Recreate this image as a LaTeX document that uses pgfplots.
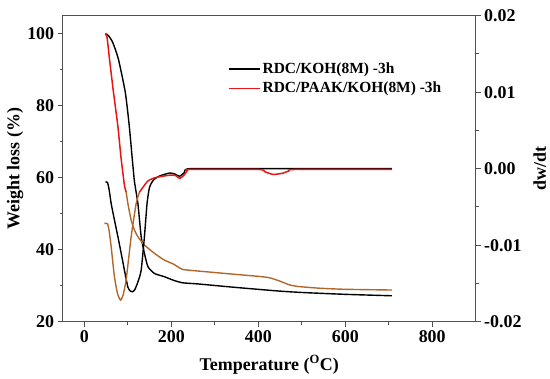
\documentclass[border=0pt]{standalone}
\usepackage{pgfplots}
\pgfplotsset{compat=1.18}
\usepackage{fontspec}
\setmainfont{Liberation Serif}
\definecolor{tgared}{RGB}{235,20,20}
\definecolor{tgabrown}{RGB}{178,102,42}
\definecolor{framegray}{RGB}{80,80,80}
\begin{document}
\begin{tikzpicture}
\useasboundingbox (-62.7bp,-57.3bp) rectangle (487.3bp,321.7bp);
\pgfplotsset{
  common/.style={
    scale only axis, width=413bp, height=306bp,
    xmin=-50, xmax=900,
    axis line style={framegray, line width=1.3bp},
    every tick/.style={framegray, line width=1.1bp},
    tick align=outside,
    major tick length=5bp, minor tick length=3bp,
    tick label style={font=\bfseries\fontsize{18}{20}\selectfont},
    label style={font=\bfseries\fontsize{18}{20}\selectfont},
    /pgf/number format/assume math mode=true,
  }
}
\begin{axis}[common,
  ymin=20, ymax=105,
  xtick={0,200,400,600,800}, minor xtick={100,300,500,700},
  ytick={20,40,60,80,100}, minor ytick={30,50,70,90},
  xtick pos=bottom, ytick pos=left,
  xlabel={Temperature (\textsuperscript{O}C)},
  ylabel={Weight loss (\%)},
  xlabel style={at={(axis description cs:0.5,0)}, anchor=center, yshift=-43bp},
  ylabel style={at={(axis description cs:0,0.5)}, anchor=center, yshift=47.5bp},
  legend style={draw=none, fill=none, at={(rel axis cs:0.40,0.794)}, anchor=west,
    font=\bfseries\fontsize{15.5}{17}\selectfont, inner sep=0pt, row sep=3bp},
  legend cell align=left,
  legend image code/.code={\draw[#1] (0bp,0bp) -- (31bp,0bp);},
]
% black TGA
\addplot[black, line width=1.4bp, smooth, tension=0.35, forget plot] coordinates {
(48,100)(55,99.5)(65,97.6)(78,93)(94,83.7)(103,74.5)(110,65.3)(115,59)(123,52.8)(130.5,43.6)(138,39)(146,35.3)(161,33.4)(184,32.5)(205,31.5)(226,30.8)(260,30.5)(350,29.5)(449,28.5)(503,28.1)(600,27.6)(707,27.2)};
% red TGA (upper, red part)
\addplot[tgared, line width=1.5bp, smooth, tension=0.35, forget plot] coordinates {
(48,100)(52,99)(57.6,93)(66.8,83.7)(76.7,74.5)(84.4,65.3)(92,57.9)(96,56)};
% red TGA (lower, brownish part)
\addplot[tgabrown, line width=1.4bp, smooth, tension=0.35, forget plot] coordinates {
(96,56)(100,52.8)(107.5,48.2)(115,45.5)(123,43.6)(138,41.3)(161,39)(184,37.1)(205,36)(218,35)(226,34.5)(250,34.2)(342,33.2)(400,32.6)(426,32.2)(449,31.3)(470,30.3)(490,29.8)(541,29.3)(600,29.0)(707,28.8)};
\addlegendimage{black, line width=1.4bp}
\addlegendentry{RDC/KOH(8M) -3h}
\addlegendimage{tgared, line width=1.6bp}
\addlegendentry{RDC/PAAK/KOH(8M) -3h}
\end{axis}
\begin{axis}[common,
  ymin=-0.02, ymax=0.02,
  scaled y ticks=false,
  axis x line=none, axis y line*=right,
  ytick={-0.02,-0.01,0,0.01,0.02},
  yticklabels={-0.02,-0.01,0.00,0.01,0.02},
  minor ytick={-0.015,-0.005,0.005,0.015},
  ylabel={dw/dt},
  ylabel style={at={(axis description cs:1,0.5)}, anchor=center, yshift=-64bp},
]
% black DTG
\addplot[black, line width=1.4bp, smooth, tension=0.35] coordinates {
(48,-0.00174)(53,-0.0018)(57,-0.0028)(61.5,-0.00456)(69,-0.0067)(77,-0.00889)(85,-0.0112)(92,-0.01327)(100,-0.0155)(106,-0.0160)(111,-0.01609)(116,-0.0158)(123,-0.0148)(130.5,-0.01327)(138,-0.00889)(144,-0.00456)(149,-0.0026)(153.6,-0.00193)(160,-0.0014)(173,-0.00095)(196,-0.00056)(208,-0.0007)(219,-0.00099)(230,-0.0005)(242,0)(400,0)(707,0)};
% red DTG brown part
\addplot[tgabrown, line width=1.4bp, smooth, tension=0.35] coordinates {
(46,-0.00715)(53,-0.0072)(57,-0.0082)(61.5,-0.01021)(69,-0.01412)(76,-0.0163)(83,-0.01718)(89,-0.0165)(96,-0.01449)(107.5,-0.00889)(119,-0.00456)(126.7,-0.00306)};
% red DTG red part
\addplot[tgared, line width=1.5bp, smooth, tension=0.35] coordinates {
(126.7,-0.00306)(135,-0.0024)(146,-0.0016)(161,-0.0012)(173,-0.00105)(196,-0.00085)(210,-0.0009)(219,-0.00127)(228,-0.0009)(236,-0.0003)(242,-0.0001)(400,-0.0001)(415,-0.0004)(434,-0.00075)(455,-0.0006)(470,-0.0003)(485,-0.0001)(707,-0.0001)};
\end{axis}
\end{tikzpicture}
\end{document}
